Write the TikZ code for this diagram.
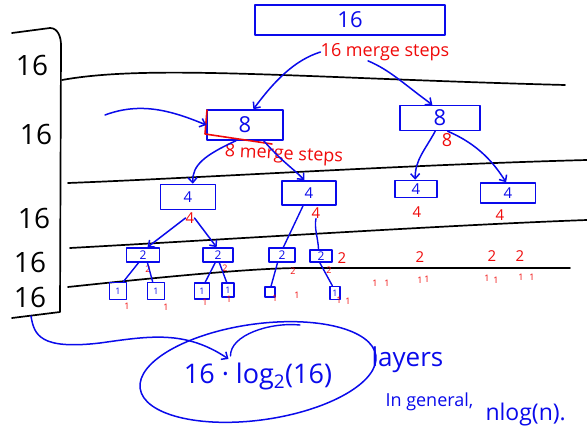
\documentclass[tikz,border=0pt]{standalone}
\usepackage{fontspec}
\setmainfont{Open Sans}
\usetikzlibrary{arrows.meta,shapes.geometric}
\definecolor{pen}{RGB}{10,10,235}
\definecolor{ink}{RGB}{240,10,10}
\begin{document}
\begin{tikzpicture}[x=1pt,y=-1pt,line cap=round,line join=round,
  box/.style={draw=pen,line width=1.5pt,text=pen,inner sep=0pt},
  note/.style={text=ink,inner sep=0pt},
  tag/.style={text=black,inner sep=0pt,font=\fontsize{28}{28}\selectfont},
  arr/.style={draw=pen,line width=1.5pt,-{Straight Barb[length=5pt,width=9pt]}},
  twig/.style={draw=pen,line width=1.4pt},
  rule/.style={draw=black,line width=1.7pt},
  f30/.style={font=\fontsize{22}{22}\selectfont},
  f20/.style={font=\fontsize{18}{18}\selectfont},
  f16/.style={font=\fontsize{15}{15}\selectfont},
  f12/.style={font=\fontsize{12}{12}\selectfont},
  f9/.style={font=\fontsize{9}{9}\selectfont}]
\fill[white] (0,0) rectangle (587,433);
\useasboundingbox (0,0) rectangle (587,433);

% layer bracket and separators
\draw[rule] (12,33) -- (50,28) to[out=0,in=90] (61,45) -- (60,312) -- (12,318);
\draw[rule] (62,80) .. controls (150,64) and (300,78) .. (565,85);
\draw[rule] (68,183) .. controls (200,178) and (400,165) .. (587,160);
\draw[rule] (70,248) .. controls (250,238) and (450,225) .. (587,220);
\draw[rule] (68,287) .. controls (180,275) and (260,268) .. (300,268) -- (570,268);

% per-layer totals
\node[tag] (t1) at (32,66) {16};
\node[tag] (t2) at (36,134) {16};
\node[tag] (t3) at (34,218) {16};
\node[tag] (t4) at (30,262) {16};
\node[tag] (t5) at (30,297) {16};
\coordinate (bk) at (31,316);

% root
\node[box,f30,minimum width=190,minimum height=30] (b16) at (350,20) {16};
\node[note,f20] (m16) at (385,52) {16 merge steps};

% level of eights
\node[box,f30,minimum width=76,minimum height=30] (b8a) at (245,125) {8};
\node[box,f30,minimum width=80,minimum height=25] (b8b) at (440,118) {8};
\draw[ink,line width=1.6pt] (207,110) -- (205,134) -- (272,144);
\coordinate (lead) at (105,115);
\draw[arr] (lead) .. controls (140,102) and (170,110) .. (b8a.west);
\node[note,f20,rotate=-3] (m8) at (284,155) {8 merge steps};
\node[note,f20] (r8) at (447,140) {8};
\draw[arr] (m16.west) .. controls (295,60) and (275,80) .. (b8a.62);
\draw[arr] ([xshift=-17pt]m16.south) .. controls (390,70) and (405,85) .. (b8b.120);

% level of fours
\node[box,f16,minimum width=55,minimum height=25] (b4a) at (188,197) {4};
\node[box,f16,minimum width=54,minimum height=24] (b4b) at (309,193) {4};
\node[box,f16,minimum width=42,minimum height=17] (b4c) at (416,189) {4};
\node[box,f16,minimum width=55,minimum height=20] (b4d) at (508,193) {4};
\draw[arr] (b8a.-120) .. controls (205,155) and (192,165) .. (b4a.70);
\draw[arr] (b8a.-40) .. controls (280,160) and (295,170) .. (b4b.110);
\draw[arr] (b8b.-110) .. controls (425,150) and (415,160) .. (b4c.95);
\draw[arr] (b8b.-60) .. controls (480,145) and (495,165) .. (b4d.100);
\node[note,f16] (r4a) at (190,218) {4};
\node[note,f16] (r4b) at (316,213) {4};
\node[note,f16] (r4c) at (417,212) {4};
\node[note,f16] (r4d) at (500,215) {4};

% level of twos
\node[box,f12,minimum width=33,minimum height=14] (b2a) at (143,255) {2};
\node[box,f12,minimum width=30,minimum height=14] (b2b) at (218,255) {2};
\node[box,f12,minimum width=26,minimum height=14] (b2c) at (282,255) {2};
\node[box,f12,minimum width=22,minimum height=12] (b2d) at (321,256) {2};
\draw[arr] (r4a.west) -- (b2a.60);
\draw[arr] (r4a.east) -- (b2b.100);
\draw[twig] (b4b.-115) -- (b2c.80);
\draw[twig] (r4b.south) .. controls (314,228) and (318,238) .. (b2d.110);
\node[note,f9] (r2a) at (148,269) {2};
\node[note,f9] (r2b) at (225,268) {2};
\node[note,f9] (r2c) at (293,271) {2};
\node[note,f9] (r2d) at (329,270) {2};
\node[note,f16] (r2e) at (342,258) {2};
\node[note,f16] (r2f) at (420,257) {2};
\node[note,f16] (r2g) at (492,256) {2};
\node[note,f16] (r2h) at (520,256) {2};

% level of ones
\node[box,f9,minimum width=17,minimum height=17] (b1a) at (118,291) {1};
\node[box,f9,minimum width=17,minimum height=17] (b1b) at (156,291) {1};
\node[box,f9,minimum width=15,minimum height=16] (b1c) at (202,291) {1};
\node[box,f9,minimum width=12,minimum height=14] (b1d) at (228,290) {1};
\node[box,minimum width=10,minimum height=10] (b1e) at (270,292) {};
\node[box,f9,minimum width=10,minimum height=13] (b1f) at (335,293) {1};
\draw[twig] (b2a.-120) -- (b1a.60);
\draw[twig] (b2a.-60) -- (b1b.110);
\draw[twig] (b2b.-110) -- (b1c.70);
\draw[twig] (b2b.-80) -- (b1d.100);
\draw[twig] (b2c.-120) -- (b1e.80);
\draw[twig] (b2d.-100) -- (b1f.110);
\foreach \n/\x/\y in {o1/127/306,o2/166/307,o3/205/302,o4/229/299,o5/275/298,
  o6/297/295,o7/339/300,o8/348/301,o9/375/283,o10/387/283,o11/420/280,o12/427/279,
  o13/487/278,o14/496/280,o15/521/277,o16/532/277}
  \node[note,f9] (\n) at (\x,\y) {1};

% total cost
\node[text=pen,font=\fontsize{27}{27}\selectfont] (cost) at (258,376) {16 · log\textsubscript{2}(16)};
\node[draw=pen,line width=1.5pt,ellipse,rotate=8,minimum width=238,minimum height=96] (ring) at (258,372) {};
\draw[arr] (bk) .. controls (34,335) and (40,350) .. (100,343)
  .. controls (150,336) and (185,330) .. (cost.150);
\draw[twig] (cost.150) ++(2,-3) .. controls (230,335) and (270,322) .. (300,325);
\node[text=pen,font=\fontsize{26}{26}\selectfont,anchor=west] (lay) at (368,360) {layers};
\node[text=pen,font=\fontsize{18}{18}\selectfont,anchor=west] (gen) at (382,402) {In general,};
\node[text=pen,font=\fontsize{23}{23}\selectfont,anchor=west] (nlog) at (482,415) {nlog(n).};
\end{tikzpicture}
\end{document}
